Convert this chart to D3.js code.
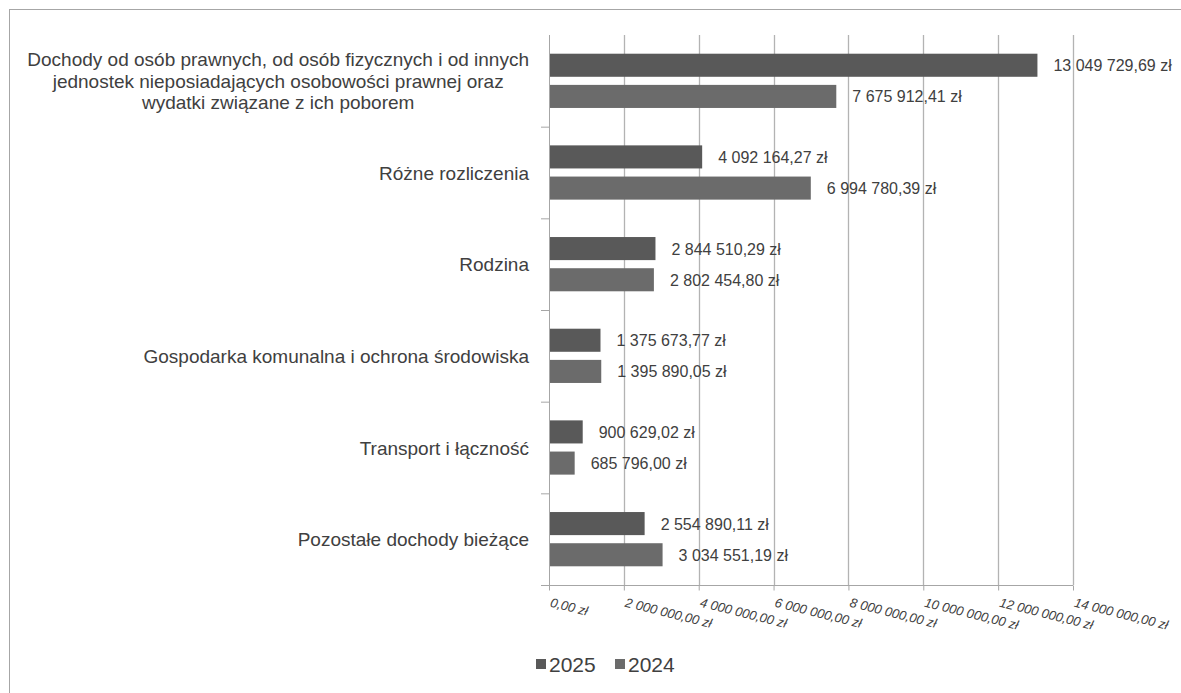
<!DOCTYPE html>
<html><head><meta charset="utf-8">
<script src="https://cdn.jsdelivr.net/npm/d3@7"></script>
<style>body{margin:0;background:#fff}svg{display:block;font-family:"Liberation Sans",Arial,sans-serif}</style>
</head><body><svg id="c" width="1181" height="693"></svg>
<script>
const categories = [
  ["Dochody od osób prawnych, od osób fizycznych i od innych","jednostek nieposiadających osobowości prawnej oraz","wydatki związane z ich poborem"],
  ["Różne rozliczenia"],
  ["Rodzina"],
  ["Gospodarka komunalna i ochrona środowiska"],
  ["Transport i łączność"],
  ["Pozostałe dochody bieżące"]
];
const seriesNames = ["2025","2024"];
const values2025 = [13049729.69, 4092164.27, 2844510.29, 1375673.77, 900629.02, 2554890.11];
const values2024 = [7675912.41, 6994780.39, 2802454.80, 1395890.05, 685796.00, 3034551.19];
const tickValues = [0,2000000,4000000,6000000,8000000,10000000,12000000,14000000];
const colors = ["#595959","#6b6b6b"];

const svg = d3.select("#c");
const L=549, R=1073, T=35, B=585;
const x = d3.scaleLinear().domain([0,14000000]).range([L,R]);
const y = d3.scaleBand().domain(d3.range(categories.length)).range([T,B]);
const inner = d3.scaleBand().domain([0,1]).range([0,y.bandwidth()]).paddingInner(0.26).paddingOuter(0.6);

const fmt = v => {
  const s = v.toFixed(2).split(".");
  return s[0].replace(/\B(?=(\d{3})+(?!\d))/g," ") + "," + s[1] + " zł";
};

// border
svg.append("rect").attr("x",9.5).attr("y",9.5).attr("width",1200).attr("height",700)
  .attr("fill","none").attr("stroke","#a6a6a6");

// gridlines
svg.append("g").selectAll("line").data(tickValues.slice(1)).join("line")
  .attr("x1",d=>Math.round(x(d))+0.5).attr("x2",d=>Math.round(x(d))+0.5)
  .attr("y1",T).attr("y2",B).attr("stroke","#b3b3b3").attr("stroke-width",1.3);

// x axis
const xAxis = d3.axisBottom(x).tickValues(tickValues).tickSize(5).tickFormat(fmt);
const gx = svg.append("g").attr("transform",`translate(0,${B+0.5})`).call(xAxis);
gx.select(".domain").attr("stroke","#a6a6a6").attr("d",`M${L-8},0H${R}`);
gx.selectAll(".tick line").attr("stroke","#a6a6a6");
gx.selectAll(".tick text").attr("fill","#404040").attr("font-size",13).attr("font-style","italic")
  .attr("text-anchor","start").attr("dy",0).attr("y",0)
  .attr("transform","translate(0,21) rotate(14)");

// y axis
const yAxis = d3.axisLeft(y).tickSize(0).tickFormat("");
const gy = svg.append("g").attr("transform",`translate(${L+0.5},0)`).call(yAxis);
gy.select(".domain").attr("stroke","#a6a6a6").attr("d",`M0,${T}V${B}`);
svg.append("g").selectAll("line").data(d3.range(1,categories.length)).join("line")
  .attr("x1",L-8).attr("x2",L).attr("y1",d=>y(d)+0.5).attr("y2",d=>y(d)+0.5).attr("stroke","#a6a6a6");

// category labels
const lab = svg.append("g").selectAll("text").data(categories).join("text")
  .attr("fill","#404040").attr("font-size",19).attr("text-anchor","middle");
lab.each(function(lines,i){
  const t = d3.select(this);
  const lh = 21.5;
  const cy = y(i)+y.bandwidth()/2;
  let maxW = 0;
  lines.forEach((ln,j)=>{
    t.append("tspan").text(ln).attr("y", cy + (j-(lines.length-1)/2)*lh + 7);
  });
  t.selectAll("tspan").each(function(){maxW=Math.max(maxW,this.getComputedTextLength());});
  t.selectAll("tspan").attr("x", 529 - maxW/2);
});

// bars
const data = [values2025, values2024];
data.forEach((vals,s)=>{
  svg.append("g").selectAll("rect").data(vals).join("rect")
    .attr("x",L+1).attr("y",(d,i)=>y(i)+inner(s))
    .attr("width",d=>x(d)-L-1).attr("height",inner.bandwidth())
    .attr("fill",colors[s]);
  svg.append("g").selectAll("text").data(vals).join("text")
    .attr("x",d=>x(d)+16).attr("y",(d,i)=>y(i)+inner(s)+inner.bandwidth()/2+6)
    .attr("fill","#404040").attr("font-size",16).text(fmt);
});

// legend
const lg = svg.append("g");
const lx = [536, 615];
seriesNames.forEach((n,i)=>{
  lg.append("rect").attr("x",lx[i]).attr("y",659).attr("width",10).attr("height",10).attr("fill",colors[i]);
  lg.append("text").attr("x",lx[i]+13).attr("y",672).attr("font-size",21).attr("fill","#404040").text(n);
});
</script></body></html>
